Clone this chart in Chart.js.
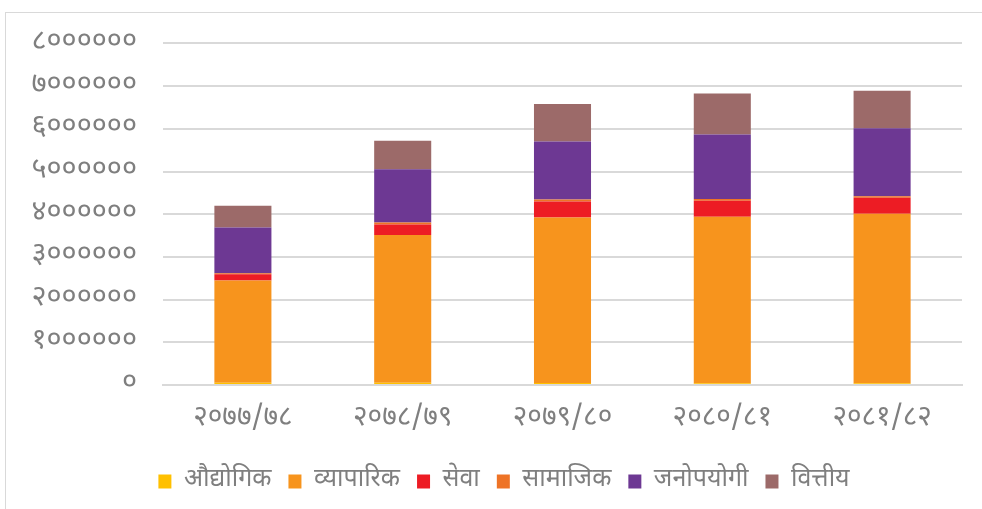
<!DOCTYPE html>
<html>
<head>
<meta charset="utf-8">
<script src="https://cdn.jsdelivr.net/npm/chart.js@4/dist/chart.umd.min.js"></script>
<style>
  html, body { margin: 0; padding: 0; background: #fff; overflow: hidden; }
  .frame { position: absolute; left: 5px; top: 12px; width: 1000px; height: 520px; border: 1px solid #d9d9d9; box-sizing: border-box; }
  .wrap { position: absolute; left: 0; top: 0; width: 982px; height: 509px; }
</style>
</head>
<body>
<div class="frame"></div>
<div class="wrap"><canvas id="chart" width="982" height="509"></canvas></div>
<script>
(function () {
  const categories = ['२०७७/७८', '२०७८/७९', '२०७९/८०', '२०८०/८१', '२०८१/८२'];
  const seriesNames = ['औद्योगिक', 'व्यापारिक', 'सेवा', 'सामाजिक', 'जनोपयोगी', 'वित्तीय'];
  const seriesColors = ['#FFC000', '#F7941D', '#ED1C24', '#EE7326', '#6D3893', '#9C6A69'];

  const industrial = [55000, 50000, 45000, 40000, 40000];
  const commercial = [2390000, 3460000, 3880000, 3900000, 3970000];
  const service = [147000, 247000, 373000, 373000, 373000];
  const social = [28000, 47000, 45000, 45000, 40000];
  const utility = [1070000, 1250000, 1360000, 1510000, 1590000];
  const financial = [506000, 669000, 876000, 956000, 879000];

  const yTickLabels = ['०', '१००००००', '२००००००', '३००००००', '४००००००', '५००००००', '६००००००', '७००००००', '८००००००'];

  const FONT = "'Noto Sans Devanagari', 'Mangal', 'Lohit Devanagari', 'Noto Sans', sans-serif";
  const seriesData = [industrial, commercial, service, social, utility, financial];

  const datasets = seriesNames.map((name, i) => ({
    label: name,
    data: seriesData[i],
    backgroundColor: seriesColors[i],
    borderWidth: 0,
    barPercentage: 0.357,
    categoryPercentage: 1,
  }));

  // legend in the source sits a bit right of the canvas centre
  const legendShift = {
    id: 'legendShift',
    afterLayout(chart) {
      chart.legend.left += 23;
      chart.legend.right += 23;
    },
  };

  new Chart(document.getElementById('chart').getContext('2d'), {
    type: 'bar',
    data: { labels: categories, datasets },
    options: {
      responsive: false,
      animation: false,
      layout: { padding: { top: 41, right: 20, left: 0, bottom: 5 } },
      scales: {
        x: {
          stacked: true,
          grid: { display: false, drawTicks: false },
          border: { color: '#d9d9d9', width: 2 },
          ticks: { color: '#7f7f7f', font: { family: FONT, size: 28 }, padding: 18 },
          afterFit: (s) => { s.height = 67; },
        },
        y: {
          stacked: true,
          min: 0,
          max: 8000000,
          grid: { color: '#d9d9d9', lineWidth: 2, drawTicks: false },
          border: { display: false },
          ticks: {
            stepSize: 1000000,
            color: '#7f7f7f',
            padding: 26,
            font: { family: FONT, size: 29 },
            callback: (v, i) => yTickLabels[i],
          },
          afterFit: (s) => { s.width = 163; },
        },
      },
      plugins: {
        legend: {
          position: 'bottom',
          labels: {
            color: '#7f7f7f',
            boxWidth: 13,
            boxHeight: 14,
            padding: 17,
            font: { family: FONT, size: 25 },
          },
        },
        tooltip: { enabled: false },
      },
    },
    plugins: [legendShift],
  });
})();
</script>
</body>
</html>
